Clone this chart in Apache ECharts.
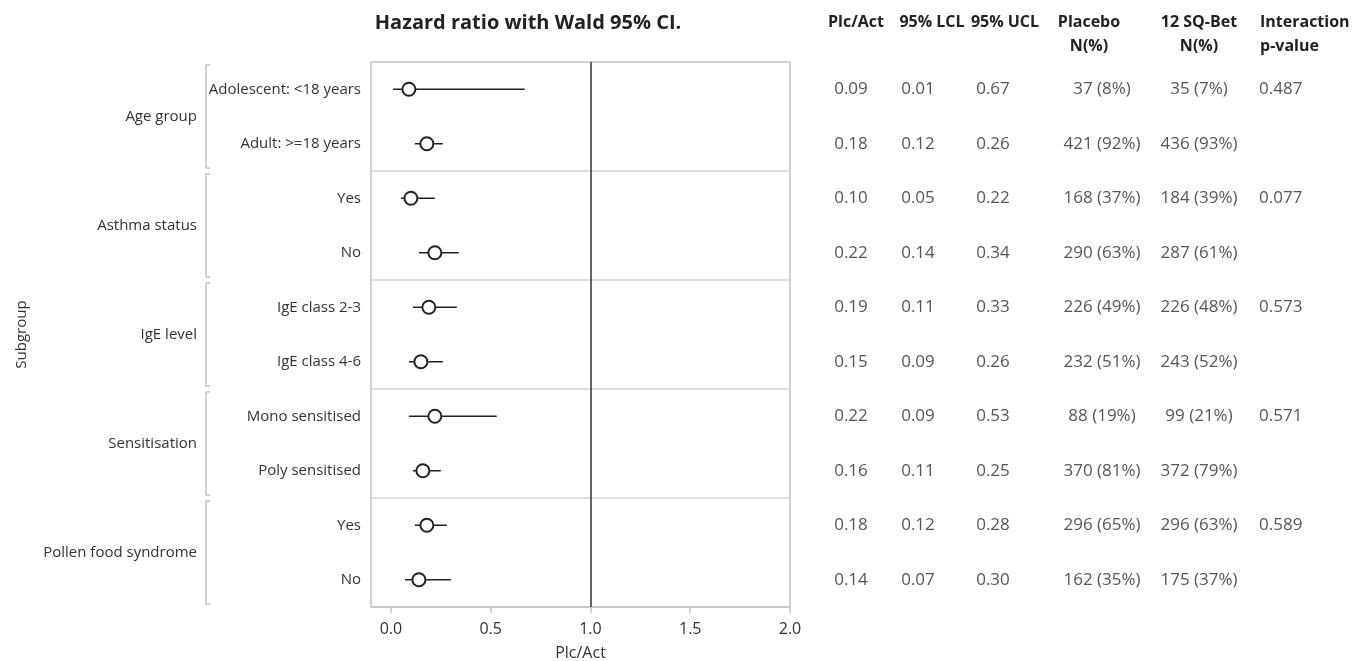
<!DOCTYPE html>
<html>
<head>
<meta charset="utf-8">
<script src="https://cdn.jsdelivr.net/npm/echarts@6/dist/echarts.min.js"></script>
<style>
  html, body { margin: 0; padding: 0; background: #fff; }
  #container { width: 1359px; height: 661px; }
</style>
</head>
<body>
<div id="container"></div>
<script>
// 行标签 (从上到下)
var rowLabels = ['Adolescent: <18 years', 'Adult: >=18 years', 'Yes', 'No', 'IgE class 2-3', 'IgE class 4-6',
    'Mono sensitised', 'Poly sensitised', 'Yes', 'No']
// 分组: 名字, 第一行, 最后一行
var groupNames = ['Age group', 'Asthma status', 'IgE level', 'Sensitisation', 'Pollen food syndrome']
var groupFirst = [0, 2, 4, 6, 8]
var groupLast = [1, 3, 5, 7, 9]

var hr = [0.09, 0.18, 0.10, 0.22, 0.19, 0.15, 0.22, 0.16, 0.18, 0.14]
var lcl = [0.01, 0.12, 0.05, 0.14, 0.11, 0.09, 0.09, 0.11, 0.12, 0.07]
var ucl = [0.67, 0.26, 0.22, 0.34, 0.33, 0.26, 0.53, 0.25, 0.28, 0.30]
var placeboN = ['37 (8%)', '421 (92%)', '168 (37%)', '290 (63%)', '226 (49%)', '232 (51%)', '88 (19%)', '370 (81%)', '296 (65%)', '162 (35%)']
var activeN = ['35 (7%)', '436 (93%)', '184 (39%)', '287 (61%)', '226 (48%)', '243 (52%)', '99 (21%)', '372 (79%)', '296 (63%)', '175 (37%)']
var pValue = ['0.487', '', '0.077', '', '0.573', '', '0.571', '', '0.589', '']

var xTicks = [0, 0.5, 1, 1.5, 2]
var headers = ['Plc/Act', '95% LCL', '95% UCL', 'Placebo\nN(%)', '12 SQ-Bet\nN(%)', 'Interaction\np-value']

// 布局 (像素)
var FONT = 'Open Sans'
var colX = [851, 918, 993, 1102, 1199, 1259]
var colAlign = ['center', 'center', 'center', 'center', 'center', 'left']
var headX = [856, 932, 1005, 1089, 1199, 1260]
var headAlign = ['center', 'center', 'center', 'center', 'center', 'left']

var fmt2 = function (v) { return v.toFixed(2) }

var tableColumns = [hr.map(fmt2), lcl.map(fmt2), ucl.map(fmt2), placeboN, activeN, pValue]

const chartInit = function () {
    var myChart = echarts.init(document.getElementById('container'))

    var tableSeries = tableColumns.map(function (col, c) {
        return {
            type: 'scatter',
            xAxisIndex: 1,
            yAxisIndex: 1,
            symbolSize: 0,
            silent: true,
            data: col.map(function (t, i) { return [colX[c], i, t] }),
            label: {
                show: true,
                position: 'inside',
                align: colAlign[c],
                formatter: function (p) { return p.value[2] },
                color: '#2a2a2a',
                fontSize: 17,
                fontFamily: FONT,
            },
        }
    })

    var headerGraphics = headers.map(function (h, c) {
        return {
            type: 'text',
            style: {
                text: h,
                x: headX[c],
                y: 10,
                textAlign: headAlign[c],
                textVerticalAlign: 'top',
                fill: '#222',
                font: 'bold 16px "' + FONT + '"',
                lineHeight: 24,
            },
        }
    })

    var option = {
        animation: false,
        graphic: [{
            type: 'text',
            style: {
                text: 'Hazard ratio with Wald 95% CI.',
                x: 528, y: 23,
                textAlign: 'center',
                textVerticalAlign: 'middle',
                fill: '#222',
                font: 'bold 20px "' + FONT + '"',
            },
        }].concat(headerGraphics),
        grid: [
            { left: 371, width: 419, top: 62, bottom: 54, show: true, borderColor: '#c4c4c4', borderWidth: 1.5, outerBoundsMode: 'none', containLabel: false },
            { left: 800, right: 0, top: 62, bottom: 54, show: false, outerBoundsMode: 'none', containLabel: false },
        ],
        xAxis: [{
            type: 'value',
            min: -0.1,
            max: 2,
            name: 'Plc/Act',
            nameLocation: 'middle',
            nameGap: 38,
            nameTextStyle: { color: '#333', fontSize: 16, fontFamily: FONT },
            axisLine: { show: true, lineStyle: { color: '#c4c4c4', width: 1.5 } },
            axisTick: { show: true, length: 6, customValues: xTicks, lineStyle: { color: '#c4c4c4', width: 1.5 } },
            axisLabel: {
                customValues: xTicks,
                formatter: function (v) { return v.toFixed(1) },
                color: '#333', fontSize: 16, fontFamily: FONT, margin: 14,
            },
            splitLine: { show: false },
        }, {
            type: 'value', gridIndex: 1, min: 800, max: 1359, show: false,
        }],
        yAxis: [{
            type: 'category',
            inverse: true,
            data: rowLabels,
            name: 'Subgroup',
            nameLocation: 'middle',
            nameRotate: 90,
            nameGap: 342,
            nameTextStyle: { color: '#333', fontSize: 15, fontFamily: FONT },
            axisLine: { show: false },
            axisTick: { show: false },
            axisLabel: { color: '#333', fontSize: 15, fontFamily: FONT, margin: 10 },
            splitLine: {
                show: true,
                interval: function (i) { return groupFirst.indexOf(i) > 0 },
                lineStyle: { color: '#d4d4d4', width: 1.5 },
            },
        }, {
            type: 'category', gridIndex: 1, inverse: true, data: rowLabels, show: false,
        }],
        series: [{
            // 置信区间
            type: 'custom',
            data: lcl.map(function (v, i) { return [v, ucl[i], i] }),
            renderItem: function (params, api) {
                var a = api.coord([api.value(0), api.value(2)])
                var b = api.coord([api.value(1), api.value(2)])
                return {
                    type: 'line',
                    shape: { x1: a[0], y1: a[1], x2: b[0], y2: b[1] },
                    style: { stroke: '#222', lineWidth: 1.5 },
                }
            },
            silent: true,
            z: 2,
        }, {
            // 分组括号和名字
            type: 'custom',
            clip: false,
            data: groupNames.map(function (g, k) { return [groupFirst[k], groupLast[k], g] }),
            renderItem: function (params, api) {
                var band = api.size([0, 1])[1]
                var top = api.coord([0, api.value(0)])[1] - band / 2 + 3
                var bot = api.coord([0, api.value(1)])[1] + band / 2 - 3
                var name = groupNames[params.dataIndex]
                return {
                    type: 'group',
                    children: [{
                        type: 'polyline',
                        shape: { points: [[210, top], [206, top], [206, bot], [210, bot]] },
                        style: { stroke: '#c4c4c4', lineWidth: 1.5, fill: null },
                    }, {
                        type: 'text',
                        style: {
                            text: name,
                            x: 197, y: (top + bot) / 2,
                            textAlign: 'right', textVerticalAlign: 'middle',
                            fill: '#333',
                            font: '15px "' + FONT + '"',
                        },
                    }],
                }
            },
            silent: true,
        }, {
            // 点估计
            type: 'scatter',
            data: hr.map(function (v, i) { return [v, i] }),
            symbol: 'circle',
            symbolSize: 13,
            itemStyle: { color: '#fff', borderColor: '#222', borderWidth: 2, opacity: 1 },
            z: 5,
            markLine: {
                silent: true,
                symbol: 'none',
                label: { show: false },
                lineStyle: { color: '#333', width: 1.5, type: 'solid' },
                data: [{ xAxis: 1 }],
            },
        }].concat(tableSeries),
    }

    myChart.setOption(option, true)
}

chartInit()
</script>
</body>
</html>
